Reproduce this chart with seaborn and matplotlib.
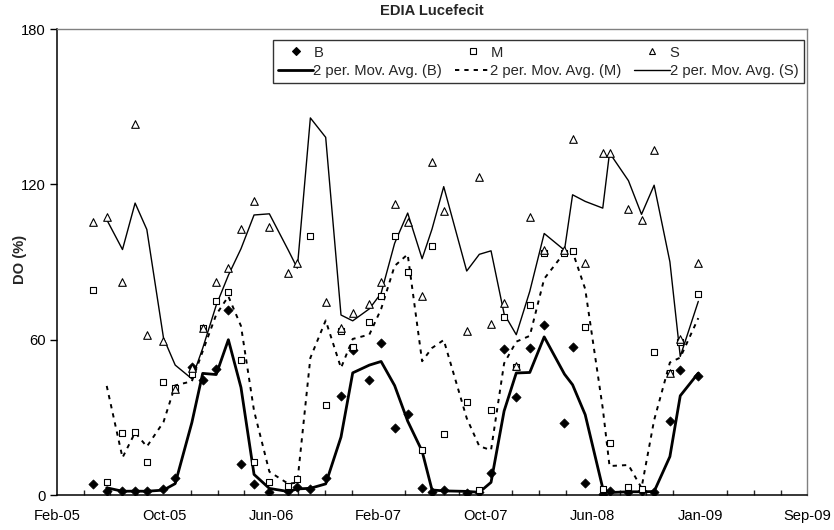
import numpy as np
import pandas as pd
import matplotlib
matplotlib.use("Agg")
import matplotlib.pyplot as plt
import matplotlib.dates as mdates
from matplotlib.lines import Line2D
import seaborn as sns

# Sampling dates
dates = ["2005-05-19", "2005-06-18", "2005-07-23", "2005-08-20", "2005-09-15",
         "2005-10-22", "2005-11-17", "2005-12-24", "2006-01-17", "2006-02-16",
         "2006-03-15", "2006-04-12", "2006-05-11", "2006-06-14", "2006-07-26",
         "2006-08-15", "2006-09-13", "2006-10-17", "2006-11-20", "2006-12-16",
         "2007-01-22", "2007-02-17", "2007-03-19", "2007-04-17", "2007-05-19",
         "2007-06-10", "2007-07-06", "2007-08-26", "2007-09-23", "2007-10-19",
         "2007-11-17", "2007-12-14", "2008-01-13", "2008-02-14", "2008-03-30",
         "2008-04-17", "2008-05-15", "2008-06-23", "2008-07-08", "2008-08-19",
         "2008-09-17", "2008-10-15", "2008-11-19", "2008-12-12", "2009-01-21"]

# Dissolved oxygen (%) at the three depths
do_b = [4.2, 1.4, 1.5, 1.5, 1.4, 2.4, 6.4, 49.6, 44.4, 48.7,
        71.3, 11.8, 4.1, 1.0, 1.7, 3.0, 2.2, 6.4, 38.4, 56.0,
        44.4, 58.8, 25.8, 31.3, 2.6, 1.3, 1.9, 0.9, 1.2, 8.6,
        56.3, 38.0, 56.7, 65.5, 27.9, 57.3, 4.8, 0.4, 1.5, 1.0,
        1.5, 1.2, 28.5, 48.2, 46.0]
do_m = [79.2, 5.1, 23.8, 24.5, 12.9, 43.5, 41.2, 46.7, 64.4, 75.0,
        78.5, 52.1, 12.9, 5.1, 3.6, 6.0, 100.0, 34.9, 63.3, 57.3,
        66.7, 77.0, 100.0, 86.0, 17.4, 96.2, 23.6, 35.8, 1.9, 32.8,
        68.9, 49.6, 73.4, 93.7, 93.7, 94.4, 64.8, 2.2, 20.2, 3.0,
        2.5, 55.4, 47.0, 59.2, 77.5]
do_s = [105.3, 107.5, 82.2, 143.4, 61.8, 59.6, 40.8, 49.0, 64.4, 82.2,
        87.6, 102.7, 113.7, 103.6, 85.6, 89.7, 201.7, 74.7, 64.4, 70.2,
        73.7, 82.2, 112.3, 105.6, 77.0, 128.5, 109.8, 63.3, 122.7, 66.0,
        74.0, 49.9, 107.5, 94.6, 94.6, 137.4, 89.5, 132.2, 132.2, 110.7,
        106.2, 133.2, 47.0, 60.1, 89.5]

series_names = ["B", "M", "S"]
yticks = [0, 60, 120, 180]

df = pd.DataFrame({"date": pd.to_datetime(dates), "B": do_b, "M": do_m, "S": do_s})
long = df.melt(id_vars="date", var_name="depth", value_name="DO")
# Two-period moving average of each depth
for name in series_names:
    df["MA_" + name] = df[name].rolling(2).mean()

sns.set_style("white")
plt.rcParams["font.family"] = ["Liberation Sans", "DejaVu Sans"]
FS = 10.6

fig = plt.figure(figsize=(8.34, 5.30), dpi=100)
ax = fig.add_axes([0.068, 0.066, 0.9, 0.879])

marker_style = {
    "B": dict(marker="D", s=22, color="black", edgecolor="black", linewidth=0.5),
    "M": dict(marker="s", s=24, facecolor="white", edgecolor="black", linewidth=0.8),
    "S": dict(marker="^", s=30, facecolor="white", edgecolor="black", linewidth=0.8),
}
line_style = {
    "B": dict(color="black", linewidth=2.0),
    "M": dict(color="black", linewidth=1.4, dashes=(2.2, 2.6)),
    "S": dict(color="black", linewidth=1.0),
}

for name in series_names:
    sub = long[long["depth"] == name]
    sns.scatterplot(data=sub, x="date", y="DO", ax=ax, legend=False, zorder=3,
                    **marker_style[name])

for name in ["M", "S", "B"]:
    ls = dict(line_style[name])
    dashes = ls.pop("dashes", None)
    sns.lineplot(x=df["date"], y=df["MA_" + name], ax=ax, sort=False,
                 estimator=None, legend=False, zorder=2, **ls)
    if dashes is not None:
        ax.lines[-1].set_dashes(dashes)

# Axis ranges and ticks
start = pd.Timestamp("2005-02-27")
step = 238
major = [start + pd.Timedelta(days=step * k) for k in range(8)]
minor = [start + pd.Timedelta(days=step * k / 4) for k in range(29)]
ax.set_xlim(major[0], major[-1])
ax.set_ylim(0, 180)
ax.set_xticks(major)
ax.set_xticks(minor, minor=True)
ax.xaxis.set_major_formatter(mdates.DateFormatter("%b-%y"))
ax.set_yticks(yticks)

ax.tick_params(axis="x", which="major", direction="inout", length=8, width=1,
               labelsize=FS, pad=6, colors="black")
ax.tick_params(axis="x", which="minor", direction="in", length=3.5, width=1,
               bottom=True)
ax.tick_params(axis="y", which="major", direction="out", length=5, width=1,
               labelsize=FS, pad=3, left=True, colors="black")

for side in ["left", "bottom"]:
    ax.spines[side].set_color("black")
    ax.spines[side].set_linewidth(1.1)
for side in ["top", "right"]:
    ax.spines[side].set_color("#808080")
    ax.spines[side].set_linewidth(1.0)

ax.set_xlabel("")
ax.set_ylabel("DO (%)", fontsize=FS, fontweight="bold")
ax.yaxis.set_label_coords(-0.0396, 0.506)
ax.set_title("EDIA Lucefecit", fontsize=FS, fontweight="bold", pad=10)

handles, labels = [], []
for name in series_names:
    ms = marker_style[name]
    handles.append(Line2D([], [], linestyle="none", marker=ms["marker"],
                          markersize=4.5 if name != "B" else 4.2,
                          markerfacecolor="black" if name == "B" else "white",
                          markeredgecolor="black", markeredgewidth=0.8))
    labels.append(name)
    ls = dict(line_style[name])
    dashes = ls.pop("dashes", None)
    h = Line2D([], [], **ls)
    if dashes is not None:
        h.set_dashes(dashes)
    handles.append(h)
    labels.append("2 per. Mov. Avg. (%s)" % name)

leg = ax.legend(handles, labels, ncol=3, loc="lower left",
                bbox_to_anchor=(0.288, 0.884, 0.707, 0.101), mode="expand",
                frameon=True, fancybox=False, fontsize=FS, handlelength=2.4,
                handletextpad=0.0, borderpad=0.35, labelspacing=0.3,
                borderaxespad=0.0)
leg.get_frame().set_edgecolor("black")
leg.get_frame().set_linewidth(1.0)

fig.savefig("out.png", dpi=100, facecolor="white")
